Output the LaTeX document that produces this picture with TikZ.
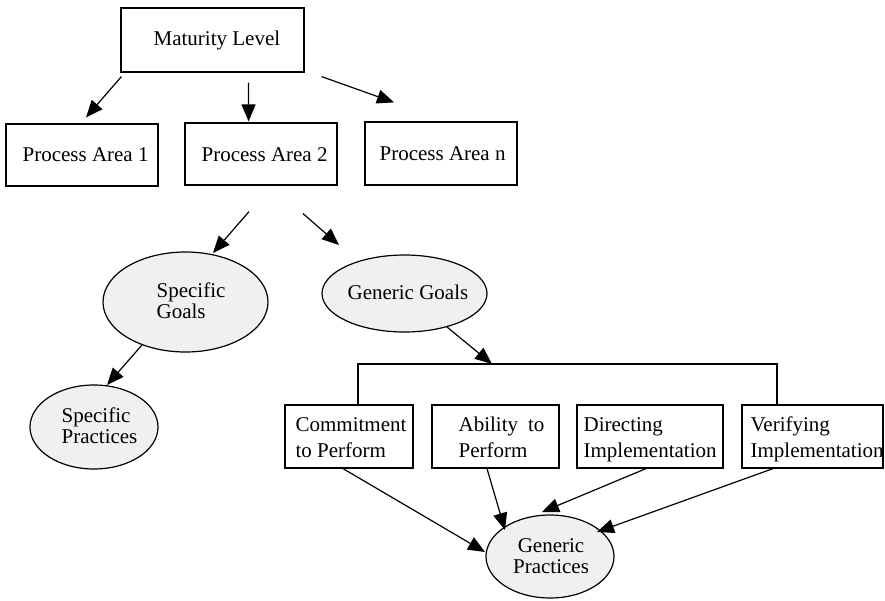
\documentclass[tikz,border=0pt]{standalone}
\usepackage{fontspec}
\setmainfont{Liberation Serif}
\usetikzlibrary{arrows.meta,shapes.geometric,calc}
\definecolor{ovalfill}{RGB}{240,240,240}
% strut that fixes the height of the first line of a multi-line label
\newcommand{\firstline}{\rule{0pt}{15pt}}

\begin{document}
\begin{tikzpicture}[x=1pt,y=-1pt,
  line width=1.2pt,
  box/.style={draw, rectangle, inner sep=0pt},
  oval/.style={draw, ellipse, fill=ovalfill, inner sep=0pt},
  arr/.style={-{Triangle[length=17pt,width=14pt]}, line width=1.2pt},
  txt/.style={inner sep=0pt, font=\fontsize{21}{26}\selectfont, align=left},
  ovaltxt/.style={inner sep=0pt, font=\fontsize{21}{21}\selectfont, align=left},
]
\useasboundingbox (0,0) rectangle (885,600);

% --- maturity level and process areas ---
\node[box, minimum width=183pt, minimum height=64pt] (ML) at (212.5,40) {};
\node[box, minimum width=152pt, minimum height=62pt] (PA1) at (82,155) {};
\node[box, minimum width=152pt, minimum height=62pt] (PA2) at (261,154) {};
\node[box, minimum width=152pt, minimum height=63pt] (PAn) at (441,153.5) {};

\node[txt, anchor=base west] (MLt) at (153,45) {Maturity Level};
\node[txt, anchor=base west] (PA1t) at (22,161) {Process Area 1};
\node[txt, anchor=base west] (PA2t) at (201,161) {Process Area 2};
\node[txt, anchor=base west] (PAnt) at (379,160) {Process Area n};

% --- goals and practices ---
\node[oval, minimum width=165pt, minimum height=100pt] (SG) at (185.5,302) {};
\node[oval, minimum width=165pt, minimum height=77pt] (GG) at (404.5,293.5) {};
\node[oval, minimum width=128pt, minimum height=84pt] (SP) at (94,427) {};
\node[oval, minimum width=128pt, minimum height=83pt] (GP) at (550,556.5) {};

\node[ovaltxt, anchor=north west] (SGt) at (156,282) {\firstline Specific\\Goals};
\node[txt, anchor=base west] (GGt) at (347,299) {Generic Goals};
\node[ovaltxt, anchor=north west] (SPt) at (61,407) {\firstline Specific\\Practices};
\node[ovaltxt, anchor=north, align=center] (GPt) at (551,537) {\firstline Generic\\Practices};

% --- common features ---
\node[box, minimum width=128pt, minimum height=63pt] (CP) at (349,436.5) {};
\node[box, minimum width=127pt, minimum height=63pt] (AP) at (495.5,436.5) {};
\node[box, minimum width=146pt, minimum height=63pt] (DI) at (650,436.5) {};
\node[box, minimum width=141pt, minimum height=63pt] (VI) at (812.5,436.5) {};

\node[txt, anchor=north west] (CPt) at (295,416) {\firstline Commitment\\to Perform};
\node[txt, anchor=north west] (APt) at (458,416) {\firstline Ability\hspace{10pt}to\\Perform};
\node[txt, anchor=north west] (DIt) at (583,416) {\firstline Directing\\Implementation};
\node[txt, anchor=north west] (VIt) at (750,416) {\firstline Verifying\\Implementation};

% --- connectors ---
\draw[arr] ($(ML.south west)+(1,4)$) -- ($(PA1.north)+(4,-6)$);
\draw[arr] ($(ML.south)+(36,10)$) -- ($(PA2.north)+(-12.4,-1)$);
\draw[arr] ($(ML.south east)+(17,4)$) -- ($(PAn.north)+(-47,-19)$);

\draw[arr] ($(PA2.south)+(-12,26)$) -- ($(SG.center)+(27.5,-49)$);
\draw[arr] ($(PA2.south)+(42,28)$) -- ($(GG.center)+(-65.5,-48.5)$);
\draw[arr] ($(SG.center)+(-43.5,43)$) -- ($(SP.center)+(13,-42)$);

% bracket joining the common features
\coordinate (barL) at (358,364);
\coordinate (barR) at (777,364);
\coordinate (barM) at (492,364);
\draw (barL |- CP.north) -- (barL) -- (barR) -- (barR |- VI.north);
\draw[arr] ($(GG.center)+(42.5,33.5)$) -- (barM);

\draw[arr] ($(CP.south)+(-6,0)$) -- ($(GP.center)+(-65,-4.5)$);
\draw[arr] ($(AP.south)+(-8.5,0)$) -- ($(GP.center)+(-45,-26.5)$);
\draw[arr] ($(DI.south)+(-4,0)$) -- ($(GP.center)+(-8,-44.5)$);
\draw[arr] ($(VI.south)+(-39.5,0)$) -- ($(GP.center)+(47,-24.5)$);
\end{tikzpicture}
\end{document}
